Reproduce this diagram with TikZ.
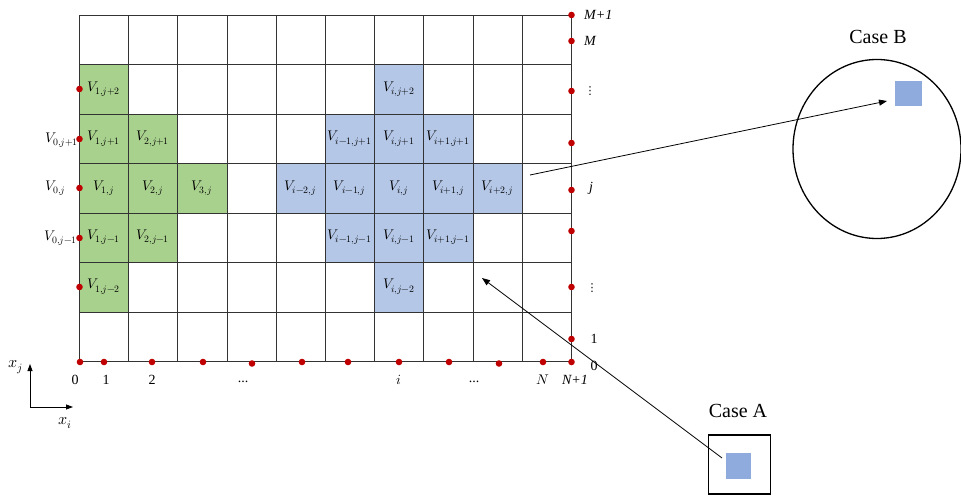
\documentclass[tikz,border=0pt]{standalone}
\usepackage{fontspec}
\usepackage{unicode-math}
\setmainfont{Liberation Serif}
\setmathfont{Latin Modern Math}
\newfontfamily\symfont{DejaVu Sans}
\usetikzlibrary{arrows.meta,shapes.geometric}
\definecolor{cgreen}{HTML}{A9D18E}
\definecolor{cblue}{HTML}{B4C7E7}
\definecolor{cdblue}{HTML}{8FAADC}
\definecolor{cred}{HTML}{C00000}
\definecolor{cgrid}{HTML}{333333}
\tikzset{
  gcell/.style={fill=cgreen,minimum width=49.2pt,minimum height=49.43pt,inner sep=0pt,font=\fontsize{14}{16}\selectfont},
  bcell/.style={fill=cblue,minimum width=49.2pt,minimum height=49.43pt,inner sep=0pt,font=\fontsize{14}{16}\selectfont},
  gridline/.style={draw=cgrid,line width=1.4pt},
  rdot/.style={fill=cred},
  axlbl/.style={font=\fontsize{14}{16}\selectfont,inner sep=0pt},
  dotlbl/.style={font=\symfont\fontsize{11}{12}\selectfont,inner sep=0pt},
  caselbl/.style={font=\fontsize{20}{22}\selectfont,inner sep=0pt},
  pointer/.style={line width=0.8pt,-{Triangle[length=8pt,width=6pt]}}
}
\newcommand\cellat[2]{({79+49.2*(#1-0.5)},{15+49.43*(#2-0.5)})}
\begin{document}
\begin{tikzpicture}[x=1pt,y=-1pt]
\useasboundingbox (0,0) rectangle (961,500);
% green cells
\node[gcell] (g12) at \cellat{1}{2} {$V_{1,j+2}$};
\node[gcell] (g13) at \cellat{1}{3} {$V_{1,j+1}$};
\node[gcell] (g14) at \cellat{1}{4} {$V_{1,j}$};
\node[gcell] (g15) at \cellat{1}{5} {$V_{1,j-1}$};
\node[gcell] (g16) at \cellat{1}{6} {$V_{1,j-2}$};
\node[gcell] (g23) at \cellat{2}{3} {$V_{2,j+1}$};
\node[gcell] (g24) at \cellat{2}{4} {$V_{2,j}$};
\node[gcell] (g25) at \cellat{2}{5} {$V_{2,j-1}$};
\node[gcell] (g34) at \cellat{3}{4} {$V_{3,j}$};
% blue cells
\node[bcell] (b72) at \cellat{7}{2} {$V_{i,j+2}$};
\node[bcell] (b73) at \cellat{7}{3} {$V_{i,j+1}$};
\node[bcell] (b74) at \cellat{7}{4} {$V_{i,j}$};
\node[bcell] (b75) at \cellat{7}{5} {$V_{i,j-1}$};
\node[bcell] (b76) at \cellat{7}{6} {$V_{i,j-2}$};
\node[bcell] (b63) at \cellat{6}{3} {$V_{i-1,j+1}$};
\node[bcell] (b64) at \cellat{6}{4} {$V_{i-1,j}$};
\node[bcell] (b65) at \cellat{6}{5} {$V_{i-1,j-1}$};
\node[bcell] (b83) at \cellat{8}{3} {$V_{i+1,j+1}$};
\node[bcell] (b84) at \cellat{8}{4} {$V_{i+1,j}$};
\node[bcell] (b85) at \cellat{8}{5} {$V_{i+1,j-1}$};
\node[bcell] (b54) at \cellat{5}{4} {$V_{i-2,j}$};
\node[bcell] (b94) at \cellat{9}{4} {$V_{i+2,j}$};
% grid
\foreach \c in {0,...,10} \draw[gridline] ({round(79+49.2*\c)+0.5},15) -- ({round(79+49.2*\c)+0.5},361);
\foreach \r in {0,...,7} \draw[gridline] (79,{round(15+49.43*\r)+0.5}) -- (571,{round(15+49.43*\r)+0.5});
% left dots
\foreach \yy in {89,139,188,238,287} \fill[rdot] (79.5,\yy) circle (3.3);
% right dots
\foreach \yy in {15,41,91,143,190,231,287,339,362} \fill[rdot] (571.5,\yy) circle (3.3);
% bottom dots
\foreach \xx/\yy in {80/362,104/362,152/362,203/362,252/363.5,302/362,348/362,399/362,449/362,499/363.5,543/362} \fill[rdot] (\xx,\yy) circle (3.3);
% left labels
\node[axlbl,anchor=west] (l1) at (45,140) {$V_{0,j+1}$};
\node[axlbl,anchor=west] (l2) at (45,188) {$V_{0,j}$};
\node[axlbl,anchor=west] (l3) at (44,238) {$V_{0,j-1}$};
% bottom labels
\node[axlbl] (n0) at (75,380) {0};
\node[axlbl] (n1) at (106,380) {1};
\node[axlbl] (n2) at (152,380) {2};
\node[axlbl] (nd1) at (243,382) {...};
\node[axlbl] (ni) at (399,380) {$i$};
\node[axlbl] (nd2) at (474,382) {...};
\node[axlbl] (nN) at (543,380) {$N$};
\node[axlbl] (nN1) at (575,380) {\itshape N+1};
% right labels
\node[axlbl,anchor=west] (rM1) at (584,15) {\itshape M+1};
\node[axlbl,anchor=west] (rM) at (584,41) {\itshape M};
\node[dotlbl] (rv1) at (590,91) {⋮};
\node[axlbl] (rj) at (591,188) {\itshape j};
\node[dotlbl] (rv2) at (592,288) {⋮};
\node[axlbl] (r1) at (594,339) {1};
\node[axlbl] (r0) at (594,366) {0};
% axes
\coordinate (ax0) at (30,407);
\coordinate (axj) at (30,364);
\coordinate (axi) at (73,407);
\draw[line width=0.8pt,-{Triangle[length=7pt,width=5pt]}] (ax0) -- (axj);
\draw[line width=0.8pt,-{Triangle[length=7pt,width=5pt]}] (ax0) -- (axi);
\node[axlbl,font=\fontsize{16}{18}\selectfont] (xj) at (16,367) {$x_j$};
\node[axlbl,font=\fontsize{16}{18}\selectfont] (xi) at (65,423) {$x_i$};
% case A
\node[draw,line width=1.3pt,minimum width=62pt,minimum height=59pt,inner sep=0pt] (caseA) at (739.5,464.5) {};
\node[fill=cdblue,minimum width=25pt,minimum height=26pt,inner sep=0pt] (sqA) at (738.5,466) {};
\node[caselbl] (lblA) at (738,411) {Case A};
% case B
\node[draw,line width=1.3pt,ellipse,minimum width=168pt,minimum height=179pt,inner sep=0pt] (caseB) at (877,149) {};
\node[fill=cdblue,minimum width=27pt,minimum height=25pt,inner sep=0pt] (sqB) at (908,94) {};
\node[caselbl] (lblB) at (878,37) {Case B};
% pointers
\coordinate (pAs) at (722,458);
\coordinate (pAe) at (482,278);
\coordinate (pBs) at (530,175);
\coordinate (pBe) at (887,101);
\draw[pointer] (pAs) -- (pAe);
\draw[pointer] (pBs) -- (pBe);
\end{tikzpicture}
\end{document}
